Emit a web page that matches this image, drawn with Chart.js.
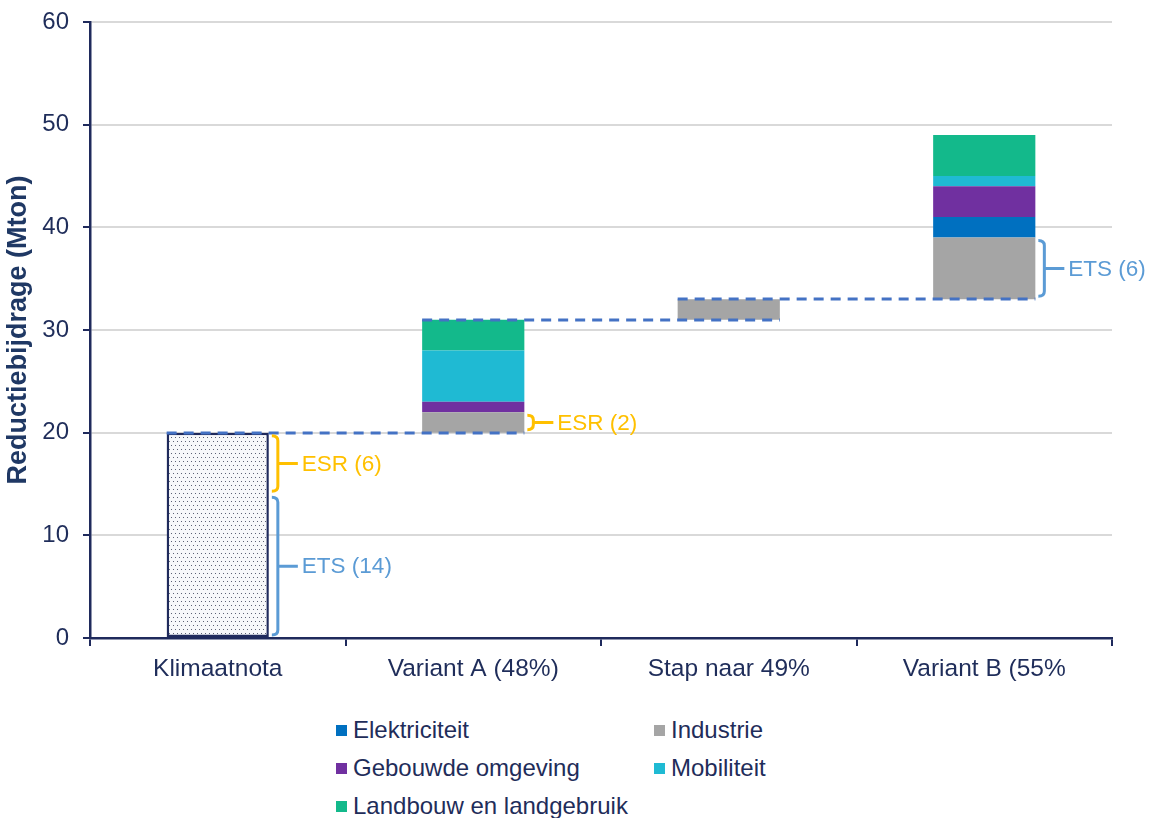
<!DOCTYPE html>
<html lang="nl">
<head>
<meta charset="utf-8">
<title>Reductiebijdrage per variant</title>
<script src="https://cdn.jsdelivr.net/npm/chart.js@4.4.1/dist/chart.umd.min.js"></script>
<style>
  html, body { margin: 0; padding: 0; background: #ffffff; }
  #wrap { position: relative; width: 1155px; height: 818px; overflow: hidden; }
  #plot { position: absolute; left: 0; top: 0; width: 1155px; height: 700px; }
  #legend {
    position: absolute; left: 336px; top: 711px;
    display: grid; grid-template-columns: 318px 240px; grid-auto-rows: 38px;
    font-family: "Liberation Sans", Arial, sans-serif; font-size: 24px; color: #1f2d5a;
  }
  #legend .item { display: flex; align-items: center; white-space: nowrap; }
  #legend .sw { width: 11px; height: 11px; margin-right: 6px; flex: none; }
</style>
</head>
<body>
<div id="wrap">
  <div id="plot"><canvas id="chart"></canvas></div>
  <div id="legend"></div>
</div>
<script>
// Categories (x axis)
const categories = ['Klimaatnota', 'Variant A (48%)', 'Stap naar 49%', 'Variant B (55%'];

// Reduction contributions per sector, Mton
const klimaatnota      = [20, null, null, null];
const industrie        = [null, 2, 2, 6];
const elektriciteit    = [null, null, null, 2];
const gebouwdeOmgeving = [null, 1, null, 3];
const mobiliteit       = [null, 5, null, 1];
const landbouw         = [null, 3, null, 4];

// Y axis ticks
const yTicks = [0, 10, 20, 30, 40, 50, 60];

// Brackets next to bars: name, bar index, lower and upper value
const bracketNames = ['ESR', 'ETS', 'ESR', 'ETS'];
const bracketBars  = [0, 0, 1, 3];
const bracketFrom  = [14, 0, 20, 33];
const bracketTo    = [20, 14, 22, 39];

// Legend order
const legendOrder = ['Elektriciteit', 'Industrie', 'Gebouwde omgeving', 'Mobiliteit', 'Landbouw en landgebruik'];

const NAVY = '#1f2a5c';
const TEXT = '#1f2d5a';
const YELLOW = '#ffc000';
const LIGHTBLUE = '#5b9bd5';
const DASH = '#4472c4';

const sectorSeries = [
  { label: 'Industrie', data: industrie, color: '#a5a5a5' },
  { label: 'Elektriciteit', data: elektriciteit, color: '#0070c0' },
  { label: 'Gebouwde omgeving', data: gebouwdeOmgeving, color: '#7030a0' },
  { label: 'Mobiliteit', data: mobiliteit, color: '#1fbad3' },
  { label: 'Landbouw en landgebruik', data: landbouw, color: '#13b98b' }
];

// Waterfall: each bar starts where the previous one ended
const allSeries = [klimaatnota].concat(sectorSeries.map(s => s.data));
const totals = categories.map((_, i) => allSeries.reduce((s, arr) => s + (arr[i] || 0), 0));
const base = [];
categories.forEach((_, i) => { base.push(i === 0 ? 0 : base[i - 1] + totals[i - 1]); });
const tops = categories.map((_, i) => base[i] + totals[i]);

// Dotted fill for the Klimaatnota bar
function dotPattern() {
  const c = document.createElement('canvas');
  c.width = 8; c.height = 8;
  const g = c.getContext('2d');
  g.fillStyle = '#f7f8fa';
  g.fillRect(0, 0, 8, 8);
  g.fillStyle = '#5d6275';
  [[1, 1], [5, 1], [3, 5], [7, 5]].forEach(p => g.fillRect(p[0], p[1], 1, 1));
  return g.createPattern(c, 'repeat');
}

const datasets = [
  { label: 'basis', data: base, backgroundColor: 'rgba(0,0,0,0)', borderWidth: 0 },
  { label: 'Klimaatnota', data: klimaatnota, backgroundColor: dotPattern(),
    borderColor: NAVY, borderWidth: 2.5, borderSkipped: false }
].concat(sectorSeries.map(s => ({
  label: s.label, data: s.data, backgroundColor: s.color, borderWidth: 0
})));

const overlay = {
  id: 'waterfallOverlay',
  afterDatasetsDraw(chart) {
    const ctx = chart.ctx;
    const y = chart.scales.y;
    const metaK = chart.getDatasetMeta(1);
    const metaS = chart.getDatasetMeta(2);
    const barAt = i => (i === 0 ? metaK.data[i] : metaS.data[i]);
    const left = i => barAt(i).x - barAt(i).width / 2;
    const right = i => barAt(i).x + barAt(i).width / 2;

    // Dashed connectors between consecutive bars
    ctx.save();
    ctx.strokeStyle = DASH;
    ctx.lineWidth = 3;
    ctx.setLineDash([10, 7]);
    for (let i = 0; i < categories.length - 1; i++) {
      const py = Math.round(y.getPixelForValue(tops[i]));
      ctx.beginPath();
      ctx.moveTo(left(i), py);
      ctx.lineTo(right(i + 1), py);
      ctx.stroke();
    }
    ctx.restore();

    // Braces with labels
    ctx.save();
    ctx.lineWidth = 3;
    ctx.font = '22.5px "Liberation Sans", Arial, sans-serif';
    ctx.textBaseline = 'middle';
    ctx.textAlign = 'left';
    bracketNames.forEach((name, k) => {
      const color = name === 'ESR' ? YELLOW : LIGHTBLUE;
      const xv = right(bracketBars[k]) + 9;
      const yTop = y.getPixelForValue(bracketTo[k]) + 3;
      const yBot = y.getPixelForValue(bracketFrom[k]) - 3;
      const ym = (yTop + yBot) / 2;
      const r = Math.min(5, (yBot - yTop) / 3);
      ctx.strokeStyle = color;
      ctx.beginPath();
      ctx.moveTo(xv - 6, yTop);
      ctx.quadraticCurveTo(xv, yTop, xv, yTop + r);
      ctx.lineTo(xv, yBot - r);
      ctx.quadraticCurveTo(xv, yBot, xv - 6, yBot);
      ctx.moveTo(xv, ym);
      ctx.lineTo(xv + 20, ym);
      ctx.stroke();
      ctx.fillStyle = color;
      ctx.fillText(name + ' (' + (bracketTo[k] - bracketFrom[k]) + ')', xv + 24, ym + 1);
    });
    ctx.restore();
  }
};

Chart.defaults.font.family = '"Liberation Sans", Arial, sans-serif';
Chart.defaults.color = TEXT;

const chart = new Chart(document.getElementById('chart'), {
  type: 'bar',
  data: { labels: categories, datasets: datasets },
  options: {
    responsive: true,
    maintainAspectRatio: false,
    animation: false,
    layout: { padding: { top: 22, right: 43, left: 0, bottom: 0 } },
    datasets: { bar: { categoryPercentage: 1, barPercentage: 0.4 } },
    plugins: { legend: { display: false }, tooltip: { enabled: false } },
    scales: {
      x: {
        stacked: true,
        afterFit: s => { s.height = 62; },
        grid: { offset: true, drawOnChartArea: false, drawTicks: true, tickLength: 8, tickColor: NAVY, lineWidth: 2 },
        border: { color: NAVY, width: 2.5 },
        ticks: { font: { size: 24.5 }, color: TEXT, padding: 9, maxRotation: 0 }
      },
      y: {
        stacked: true,
        min: 0, max: 60,
        afterFit: s => { s.width = 90; s.paddingTop = 0; s.paddingBottom = 0; },
        afterBuildTicks: s => { s.ticks = yTicks.map(v => ({ value: v })); },
        grid: { color: '#d9d9d9', lineWidth: 2, tickColor: NAVY, tickLength: 7, drawTicks: true },
        border: { color: NAVY, width: 2.5 },
        ticks: { font: { size: 24 }, color: TEXT, padding: 14 },
        title: { display: true, text: 'Reductiebijdrage (Mton)', color: '#1f3864',
                 font: { size: 27, weight: 'bold' }, padding: { top: 2, bottom: 0 } }
      }
    }
  },
  plugins: [overlay]
});

// HTML legend built from the chart's datasets
const legendEl = document.getElementById('legend');
legendOrder.forEach(name => {
  const ds = chart.data.datasets.find(d => d.label === name);
  const item = document.createElement('div');
  item.className = 'item';
  const sw = document.createElement('span');
  sw.className = 'sw';
  sw.style.background = ds.backgroundColor;
  const tx = document.createElement('span');
  tx.textContent = name;
  item.appendChild(sw);
  item.appendChild(tx);
  legendEl.appendChild(item);
});
</script>
</body>
</html>
